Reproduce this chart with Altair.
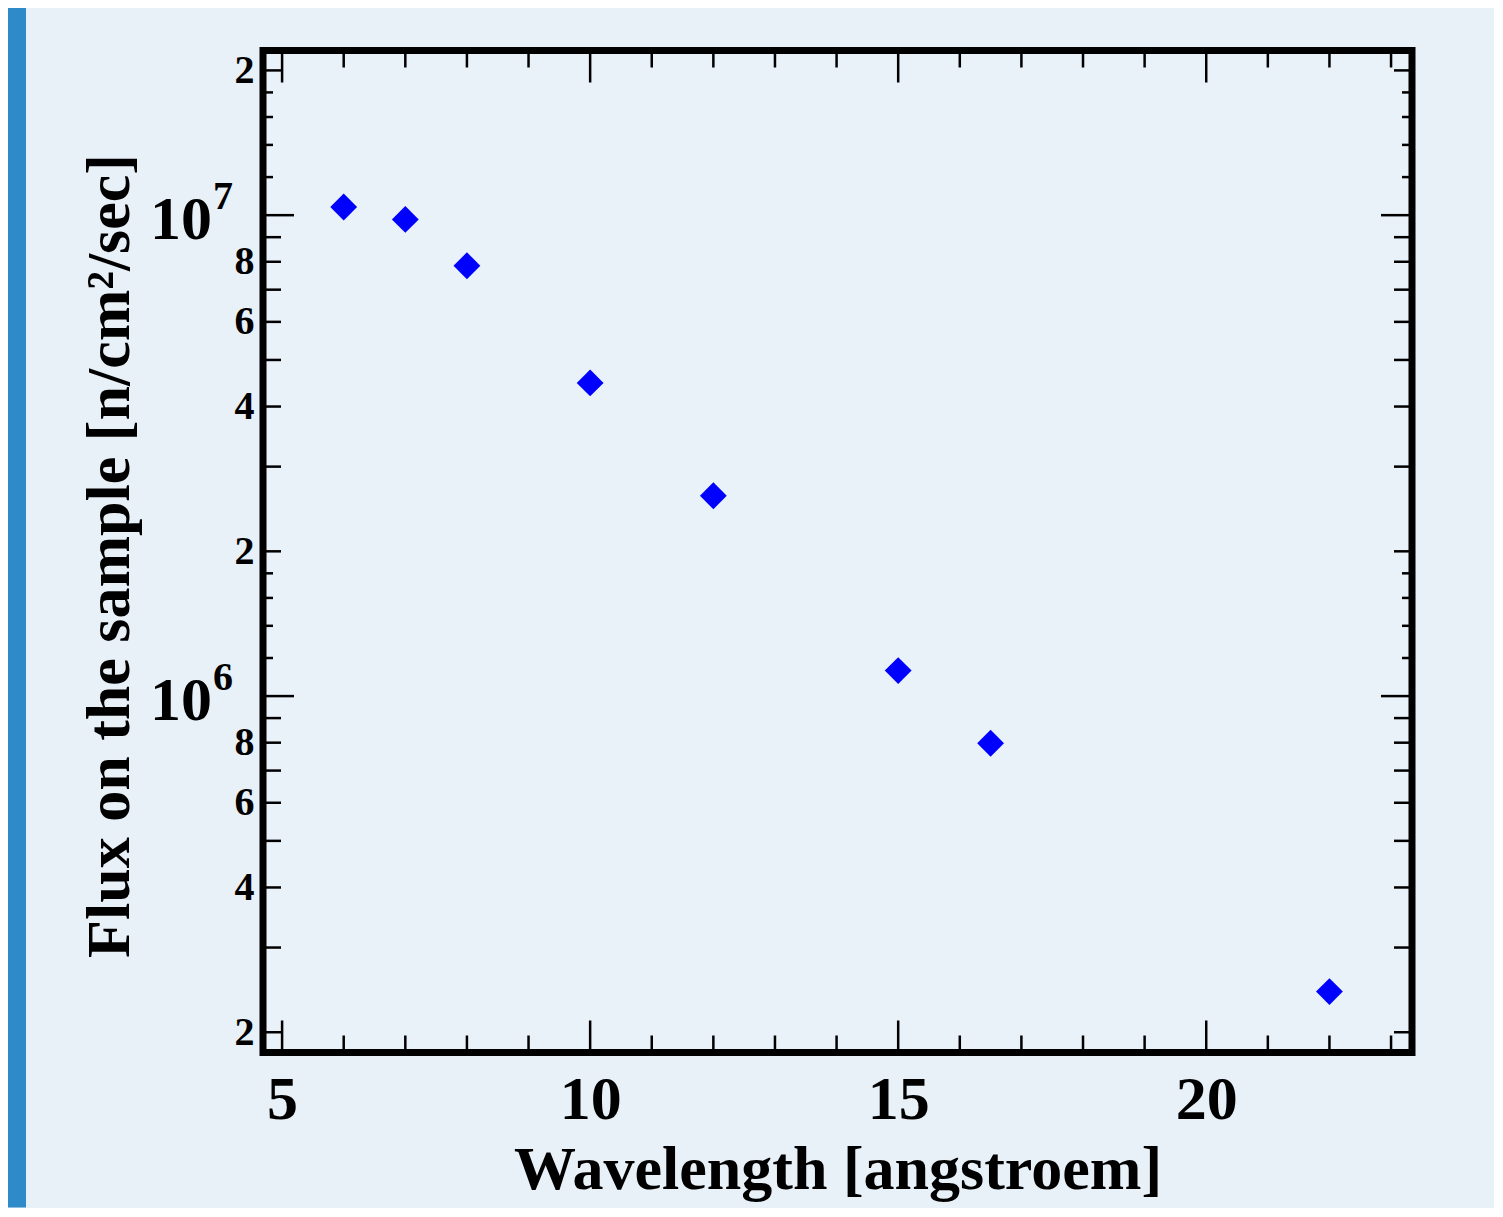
import altair as alt
import pandas as pd

# ---- data ----
wavelength = [6, 7, 8, 10, 12, 15, 16.5, 22]
flux = [1.04e7, 9.8e6, 7.85e6, 4.48e6, 2.61e6, 1.13e6, 7.98e5, 2.43e5]

x_major_ticks = [5, 10, 15, 20]
x_minor_ticks = [6, 7, 8, 9, 11, 12, 13, 14, 16, 17, 18, 19, 21, 22, 23]
y_decade_ticks = [1e6, 1e7]
y_mid_ticks = [2e5, 3e5, 4e5, 5e5, 6e5, 7e5, 8e5, 9e5,
               2e6, 3e6, 4e6, 5e6, 6e6, 7e6, 8e6, 9e6, 2e7]
y_small_ticks = [1.2e6, 1.4e6, 1.6e6, 1.8e6, 1.2e7, 1.4e7, 1.6e7, 1.8e7]
y_label_values = [2e5, 4e5, 6e5, 8e5, 2e6, 4e6, 6e6, 8e6, 2e7]
decade_values = [1e6, 1e7]
decade_base = ["10", "10"]
decade_exp = ["6", "7"]

W, H = 1149, 1002
FONT = "Liberation Serif"

xs = alt.Scale(domain=[4.69, 23.34], nice=False, zero=False)
ys = alt.Scale(type="log", domain=[1.815e5, 2.2e7], nice=False)

x_axis = alt.Axis(
    values=x_major_ticks, tickSize=0, ticks=False, domain=False, grid=False,
    labelFont=FONT, labelFontWeight="bold", labelFontSize=62, labelColor="black",
    labelPadding=17, labelFlush=False,
    title="Wavelength [angstroem]", titleFont=FONT, titleFontWeight="bold",
    titleFontSize=62, titleColor="black", titleBaseline="alphabetic",
    titleX=W / 2, titleY=136)

y_axis = alt.Axis(
    values=y_label_values, tickSize=0, ticks=False, domain=False, grid=False,
    labelExpr="substring(format(datum.value, '.0e'), 0, 1)",
    labelFont=FONT, labelFontWeight="bold", labelFontSize=40, labelColor="black",
    labelPadding=9, labelFlush=False,
    title="Flux on the sample [n/cm²/sec]", titleFont=FONT, titleFontWeight="bold",
    titleFontSize=62, titleColor="black", titleBaseline="alphabetic",
    titleAngle=-90, titleX=-135, titleY=H / 2 + 4)

pts = pd.DataFrame({"wavelength": wavelength, "flux": flux})

points = alt.Chart(pts).mark_point(
    shape="diamond", filled=True, size=720, color="#0000ff", opacity=1
).encode(
    x=alt.X("wavelength:Q", scale=xs, axis=x_axis),
    y=alt.Y("flux:Q", scale=ys, axis=y_axis),
)


def xtick_layer(vals, length, top):
    d = pd.DataFrame({"wavelength": vals})
    if top:
        yy, yy2 = alt.value(0), alt.value(length)
    else:
        yy, yy2 = alt.value(H), alt.value(H - length)
    return alt.Chart(d).mark_rule(color="black", strokeWidth=2.5).encode(
        x=alt.X("wavelength:Q", scale=xs, axis=x_axis), y=yy, y2=yy2)


def ytick_layer(vals, length, left):
    d = pd.DataFrame({"flux": vals})
    if left:
        xx, xx2 = alt.value(0), alt.value(length)
    else:
        xx, xx2 = alt.value(W), alt.value(W - length)
    return alt.Chart(d).mark_rule(color="black", strokeWidth=2.5).encode(
        y=alt.Y("flux:Q", scale=ys, axis=y_axis), x=xx, x2=xx2)


ticks = []
for top in (True, False):
    ticks.append(xtick_layer(x_major_ticks, 32, top))
    ticks.append(xtick_layer(x_minor_ticks, 17, top))
for left in (True, False):
    ticks.append(ytick_layer(y_decade_ticks, 31, left))
    ticks.append(ytick_layer(y_mid_ticks, 18, left))
    ticks.append(ytick_layer(y_small_ticks, 10, left))

dec = pd.DataFrame({"flux": decade_values, "base": decade_base, "exp": decade_exp})
dec_base = alt.Chart(dec).mark_text(
    font=FONT, fontWeight="bold", fontSize=62, align="right",
    baseline="alphabetic", dy=24, color="black"
).encode(y=alt.Y("flux:Q", scale=ys, axis=y_axis), x=alt.value(-51), text="base:N")
dec_exp = alt.Chart(dec).mark_text(
    font=FONT, fontWeight="bold", fontSize=40, align="left",
    baseline="alphabetic", dy=-6, color="black"
).encode(y=alt.Y("flux:Q", scale=ys, axis=y_axis), x=alt.value(-50), text="exp:N")

strip = alt.Chart(pd.DataFrame({"a": [0]})).mark_rect(
    color="#2e8ac8", clip=False
).encode(x=alt.value(-255), x2=alt.value(-237), y=alt.value(-43), y2=alt.value(H + 155))

chart = alt.layer(points, *ticks, dec_base, dec_exp, strip).properties(
    width=W, height=H,
    autosize=alt.AutoSizeParams(type="none"),
    padding={"left": 255, "top": 42.5, "right": 82, "bottom": 155},
    background="#e8f0f8",
).configure_view(
    stroke="black", strokeWidth=7, fill="#e9f1f9"
)

chart.save("out.html", embed_options={"renderer": "svg", "actions": False})
